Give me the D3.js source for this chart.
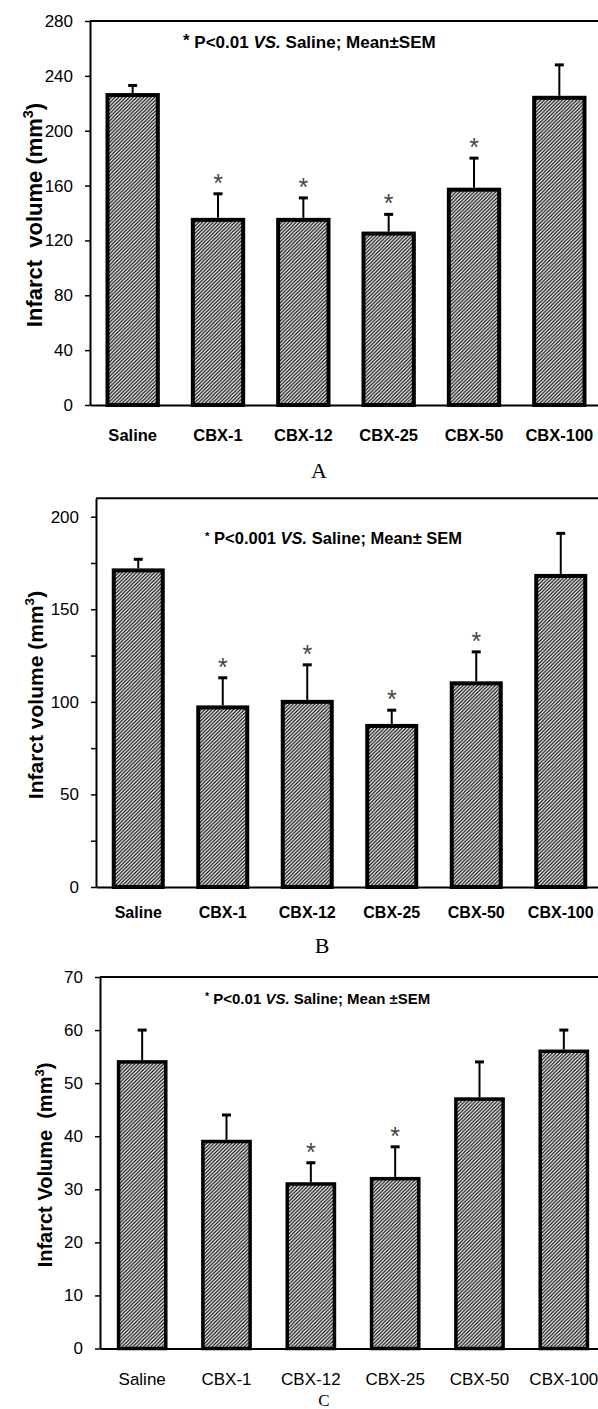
<!DOCTYPE html>
<html>
<head>
<meta charset="utf-8">
<script src="https://cdn.jsdelivr.net/npm/d3@7"></script>
<style>
  body { margin: 0; background: #fff; }
  svg { display: block; }
  text { white-space: pre; }
</style>
</head>
<body>
<script>
var categories = ["Saline", "CBX-1", "CBX-12", "CBX-25", "CBX-50", "CBX-100"];

// panel A
var meanA = [226, 135, 135, 125, 157, 224];
var semA = [7, 19, 16, 14, 23, 24];
var starA = [false, true, true, true, true, false];
var ticksA = [0, 40, 80, 120, 160, 200, 240, 280];
var labelsA = [0, 40, 80, 120, 160, 200, 240, 280];

// panel B
var meanB = [171, 97, 100, 87, 110, 168];
var semB = [6, 16, 20, 8.5, 17, 23];
var starB = [false, true, true, true, true, false];
var ticksB = [0, 25, 50, 75, 100, 125, 150, 175, 200];
var labelsB = [0, 50, 100, 150, 200];

// panel C
var meanC = [54, 39, 31, 32, 47, 56];
var semC = [6, 5, 4, 6, 7, 4];
var starC = [false, false, true, true, false, false];
var ticksC = [0, 10, 20, 30, 40, 50, 60, 70];
var labelsC = [0, 10, 20, 30, 40, 50, 60, 70];

var W = 598, H = 1409;
var sans = "Arial, 'Liberation Sans', sans-serif";
var serif = "'Liberation Serif', 'Times New Roman', serif";

var svg = d3.select("body").append("svg")
  .attr("width", W)
  .attr("height", H);

var defs = svg.append("defs");
var pat = defs.append("pattern")
  .attr("id", "hatch")
  .attr("patternUnits", "userSpaceOnUse")
  .attr("width", 3.6)
  .attr("height", 3.6);
pat.append("rect").attr("width", 3.6).attr("height", 3.6).attr("fill", "#fff");
pat.append("path")
  .attr("d", "M0,3.6 L3.6,0 M-0.9,0.9 L0.9,-0.9 M2.7,4.5 L4.5,2.7")
  .attr("stroke", "#111")
  .attr("stroke-width", 1.3);

var panels = [
  { mean: meanA, sem: semA, star: starA, ticks: ticksA, labels: labelsA, ymax: 280,
    left: 90, right: 602, top: 21, bottom: 405, pad: 0.41, barStroke: 4,
    labelY: 441, labelFont: 16.5, labelWeight: "bold",
    ytitle: ["Infarct  volume (mm", ")"], ytitleX: 42, ytitleY: 215, ytitleFont: 22,
    note: ["P<0.01 ", "VS.", " Saline; Mean\u00b1SEM"], noteX: 183, noteY: 48, noteFont: 17, starBig: true,
    letter: "A", letterY: 478, letterFont: 22 },
  { mean: meanB, sem: semB, star: starB, ticks: ticksB, labels: labelsB, ymax: 210,
    left: 96, right: 603, top: 0, bottom: 887, pad: 0.42, barStroke: 4,
    labelY: 918, labelFont: 16, labelWeight: "bold",
    ytitle: ["Infarct volume (mm", ")"], ytitleX: 43, ytitleY: 695, ytitleFont: 21,
    note: ["P<0.001 ", "VS.", " Saline; Mean\u00b1 SEM"], noteX: 205, noteY: 544, noteFont: 16.5, starBig: false,
    letter: "B", letterY: 953, letterFont: 22 },
  { mean: meanC, sem: semC, star: starC, ticks: ticksC, labels: labelsC, ymax: 70,
    left: 100, right: 606, top: 977, bottom: 1348.5, pad: 0.44, barStroke: 3.5,
    labelY: 1385, labelFont: 17, labelWeight: "normal",
    ytitle: ["Infarct Volume  (mm", ")"], ytitleX: 52, ytitleY: 1165, ytitleFont: 20,
    note: ["P<0.01 ", "VS.", " Saline; Mean \u00b1SEM"], noteX: 205, noteY: 1004, noteFont: 15, starBig: false,
    letter: "C", letterY: 1406, letterFont: 17 }
];

// panel B's y range is set by its 200 tick
panels[1].top = 887 - (887 - 516.7) * 210 / 200;

panels.forEach(drawPanel);

function drawPanel(p) {
  var g = svg.append("g");

  var x = d3.scaleBand()
    .domain(categories)
    .range([p.left, p.right])
    .paddingInner(p.pad)
    .paddingOuter(p.pad / 2);

  var y = d3.scaleLinear()
    .domain([0, p.ymax])
    .range([p.bottom, p.top]);

  var rows = categories.map(function(c, i) {
    return { cat: c, mean: p.mean[i], sem: p.sem[i], star: p.star[i] };
  });

  // bars
  g.selectAll("rect.bar").data(rows).enter().append("rect")
    .attr("class", "bar")
    .attr("x", function(d) { return x(d.cat); })
    .attr("y", function(d) { return y(d.mean); })
    .attr("width", x.bandwidth())
    .attr("height", function(d) { return y(0) - y(d.mean); })
    .attr("fill", "url(#hatch)")
    .attr("stroke", "#000")
    .attr("stroke-width", p.barStroke);

  // error bars (upper only)
  var cx = function(d) { return x(d.cat) + x.bandwidth() / 2; };
  g.selectAll("line.err").data(rows).enter().append("line")
    .attr("x1", cx).attr("x2", cx)
    .attr("y1", function(d) { return y(d.mean) - p.barStroke / 2; })
    .attr("y2", function(d) { return y(d.mean + d.sem); })
    .attr("stroke", "#000").attr("stroke-width", 2);
  g.selectAll("line.cap").data(rows).enter().append("line")
    .attr("x1", function(d) { return cx(d) - 4.5; })
    .attr("x2", function(d) { return cx(d) + 4.5; })
    .attr("y1", function(d) { return y(d.mean + d.sem); })
    .attr("y2", function(d) { return y(d.mean + d.sem); })
    .attr("stroke", "#000").attr("stroke-width", 3);

  // significance stars
  g.selectAll("text.star").data(rows.filter(function(d) { return d.star; })).enter().append("text")
    .attr("x", cx)
    .attr("y", function(d) { return y(d.mean + d.sem) - 2; })
    .attr("text-anchor", "middle")
    .style("font-family", sans)
    .style("font-size", "25px")
    .attr("fill", "#444")
    .text("*");

  // y axis
  var yAxis = d3.axisLeft(y)
    .tickValues(p.ticks)
    .tickSize(5)
    .tickSizeOuter(0)
    .tickPadding(12)
    .tickFormat(function(d) { return p.labels.indexOf(d) >= 0 ? d : ""; });
  var ya = g.append("g")
    .attr("transform", "translate(" + p.left + ",0)")
    .call(yAxis);
  ya.select(".domain").attr("stroke-width", 2);
  ya.selectAll(".tick line").attr("stroke-width", 1.5);
  ya.selectAll("text")
    .style("font-family", sans)
    .style("font-size", "17px")
    .attr("fill", "#000");

  // x axis
  var xAxis = d3.axisBottom(x).tickSize(0).tickSizeOuter(0);
  var xa = g.append("g")
    .attr("transform", "translate(0," + p.bottom + ")")
    .call(xAxis);
  xa.select(".domain").attr("stroke-width", 2);
  xa.selectAll("text")
    .attr("y", p.labelY - p.bottom)
    .attr("dy", null)
    .style("font-family", sans)
    .style("font-size", p.labelFont + "px")
    .style("font-weight", p.labelWeight)
    .attr("fill", "#000");

  // top frame
  g.append("line")
    .attr("x1", p.left).attr("x2", W)
    .attr("y1", y(p.ymax)).attr("y2", y(p.ymax))
    .attr("stroke", "#000").attr("stroke-width", 2);

  // y title
  var yt = g.append("text")
    .attr("transform", "translate(" + p.ytitleX + "," + p.ytitleY + ") rotate(-90)")
    .attr("text-anchor", "middle")
    .style("font-family", sans)
    .style("font-size", p.ytitleFont + "px")
    .style("font-weight", "bold");
  yt.append("tspan").text(p.ytitle[0]);
  yt.append("tspan").style("font-size", (p.ytitleFont * 0.65) + "px").attr("dy", -p.ytitleFont * 0.42).text("3");
  yt.append("tspan").attr("dy", p.ytitleFont * 0.42).text(p.ytitle[1]);

  // annotation
  var nt = g.append("text")
    .attr("x", p.noteX).attr("y", p.noteY)
    .style("font-family", sans)
    .style("font-size", p.noteFont + "px")
    .style("font-weight", "bold");
  if (p.starBig) {
    nt.append("tspan").attr("dy", -2).text("* ");
    nt.append("tspan").attr("dy", 2).text(p.note[0]);
  } else {
    nt.append("tspan").style("font-size", (p.noteFont * 0.7) + "px").attr("dy", -4).text("*");
    nt.append("tspan").attr("dy", 4).text(" " + p.note[0]);
  }
  nt.append("tspan").style("font-style", "italic").text(p.note[1]);
  nt.append("tspan").text(p.note[2]);

  // panel letter
  g.append("text")
    .attr("x", (p.left + W) / 2 - 25)
    .attr("y", p.letterY)
    .attr("text-anchor", "middle")
    .style("font-family", serif)
    .style("font-size", p.letterFont + "px")
    .text(p.letter);
}
</script>
</body>
</html>
